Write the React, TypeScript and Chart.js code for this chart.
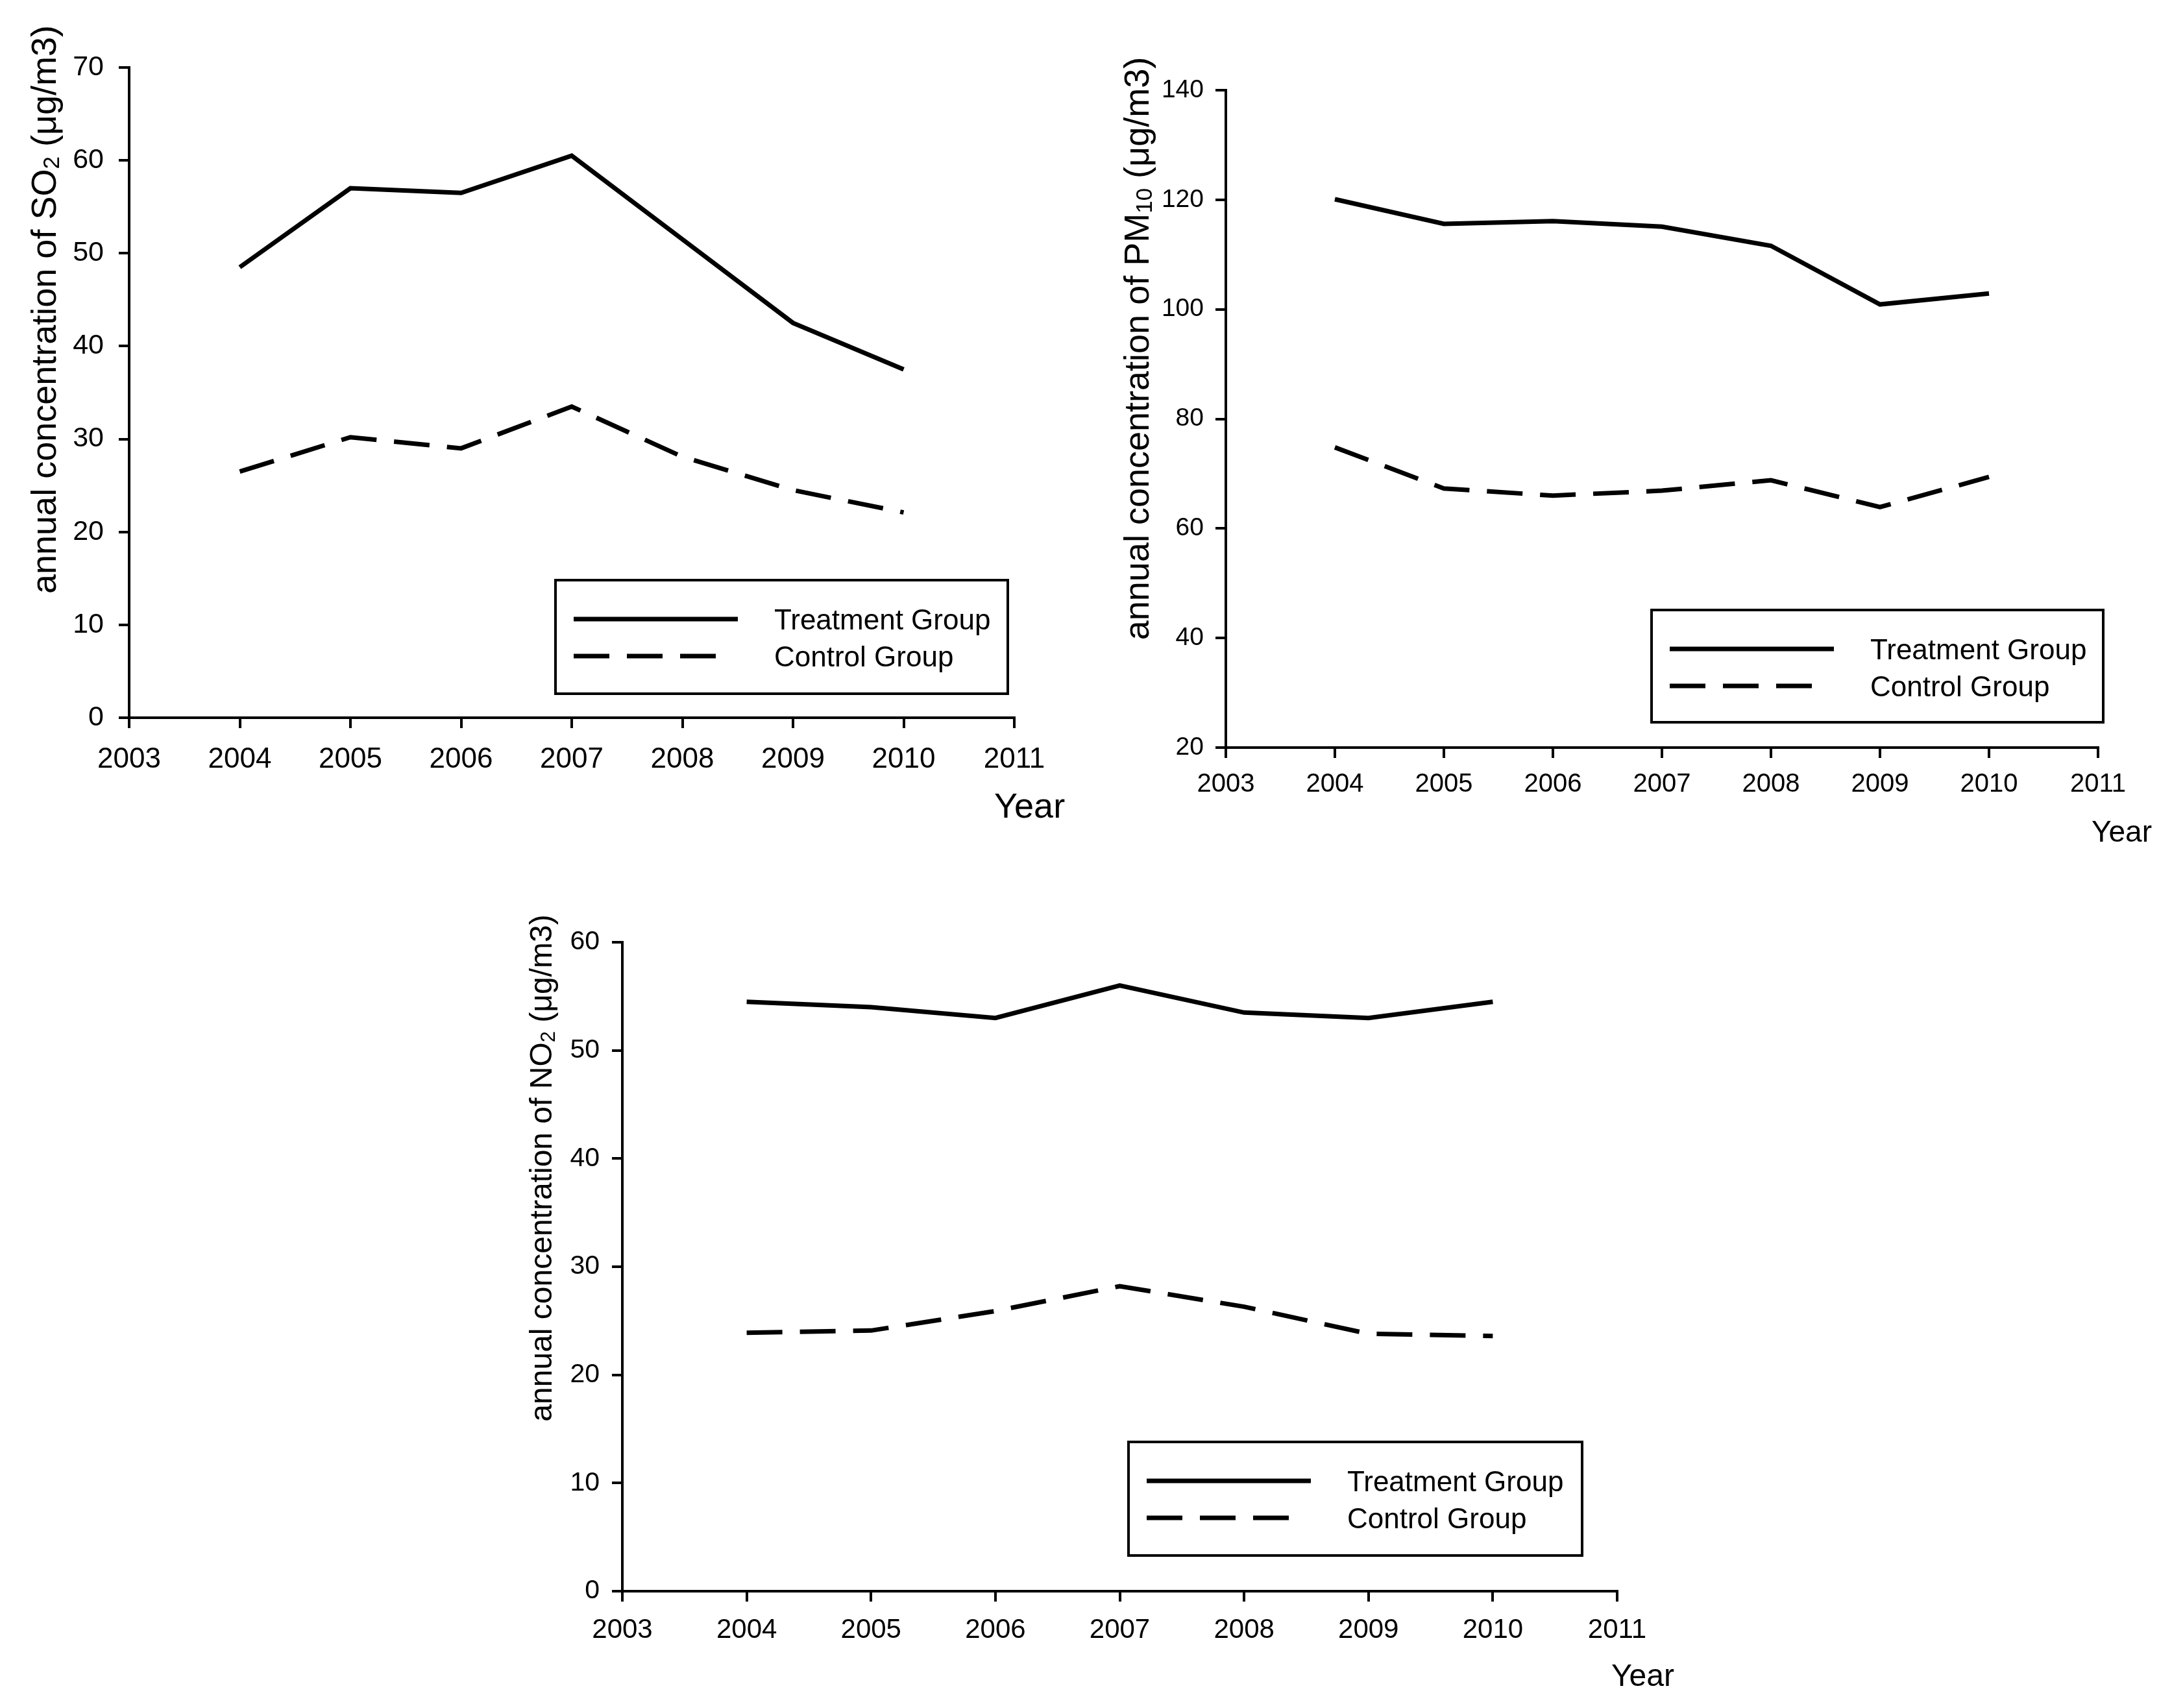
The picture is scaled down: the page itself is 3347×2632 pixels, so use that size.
import React, { useEffect, useRef } from "react";
import { Chart, registerables } from "chart.js";

Chart.register(...registerables);

// ---------- data ----------
const years = [2004, 2005, 2006, 2007, 2008, 2009, 2010];
const xAxisRange = [2003, 2011];
const seriesLabels = ["Treatment Group", "Control Group"];

const so2Treatment = [48.5, 57.0, 56.5, 60.5, 51.5, 42.5, 37.5];
const so2Control = [26.5, 30.2, 29.0, 33.5, 28.1, 24.5, 22.1];
const so2Range = [0, 70, 10];

const pm10Treatment = [120.1, 115.6, 116.1, 115.1, 111.6, 100.9, 102.9];
const pm10Control = [74.8, 67.3, 66.0, 66.9, 68.8, 63.9, 69.4];
const pm10Range = [20, 140, 20];

const no2Treatment = [54.5, 54.0, 53.0, 56.0, 53.5, 53.0, 54.5];
const no2Control = [23.9, 24.1, 25.9, 28.2, 26.3, 23.8, 23.6];
const no2Range = [0, 60, 10];

const xTitle = "Year";
const so2Title = [
  { t: "annual concentration of SO" },
  { t: "2", sub: true },
  { t: " (μg/m3)" },
];
const pm10Title = [
  { t: "annual concentration of PM" },
  { t: "10", sub: true },
  { t: " (μg/m3)" },
];
const no2Title = [
  { t: "annual concentration of NO" },
  { t: "2", sub: true },
  { t: " (μg/m3)" },
];

const FONT = "'Liberation Sans', Arial, Helvetica, sans-serif";
const DASH = [55, 27];

type Part = { t: string; sub?: boolean };
type Spec = {
  left: number;
  top: number;
  w: number;
  h: number;
  treatment: number[];
  control: number[];
  yRange: number[];
  padding: { left: number; top: number; right: number; bottom: number };
  yWidth: number;
  xHeight: number;
  tickFont: number;
  yTickFont: number;
  xPad: number;
  yPad: number;
  title: Part[];
  titleFont: number;
  titleX: number;
  titleY: number;
  yearFont: number;
  yearX: number;
  yearY: number;
  legend: { x: number; y: number; w: number; h: number };
  legendFont: number;
};

function makeTextPlugin(spec: Spec) {
  return {
    id: "figText",
    afterDraw(chart: any) {
      const ctx = chart.ctx as CanvasRenderingContext2D;
      ctx.save();
      ctx.fillStyle = "#000";
      ctx.strokeStyle = "#000";

      // rotated y title with subscripts
      const F = spec.titleFont;
      const SF = Math.round(F * 0.64);
      const widths = spec.title.map((p) => {
        ctx.font = `${p.sub ? SF : F}px ${FONT}`;
        return ctx.measureText(p.t).width;
      });
      const total = widths.reduce((a, b) => a + b, 0);
      ctx.translate(spec.titleX, spec.titleY);
      ctx.rotate(-Math.PI / 2);
      ctx.textBaseline = "alphabetic";
      ctx.textAlign = "left";
      let cx = -total / 2;
      const base = F * 0.26;
      spec.title.forEach((p, i) => {
        ctx.font = `${p.sub ? SF : F}px ${FONT}`;
        ctx.fillText(p.t, cx, p.sub ? base + F * 0.1 : base);
        cx += widths[i];
      });
      ctx.setTransform(1, 0, 0, 1, 0, 0);

      // x title
      ctx.font = `${spec.yearFont}px ${FONT}`;
      ctx.fillText(xTitle, spec.yearX, spec.yearY);

      // legend box
      const L = spec.legend;
      ctx.lineWidth = 4;
      ctx.setLineDash([]);
      ctx.strokeRect(L.x, L.y, L.w, L.h);
      const rows = [60, 117];
      chart.data.datasets.forEach((ds: any, i: number) => {
        const y = L.y + rows[i];
        ctx.lineWidth = ds.borderWidth;
        ctx.setLineDash(ds.borderDash || []);
        ctx.beginPath();
        ctx.moveTo(L.x + 28, y);
        ctx.lineTo(L.x + 28 + (ds.borderDash ? 222 : 253), y);
        ctx.stroke();
        ctx.setLineDash([]);
        ctx.font = `${spec.legendFont}px ${FONT}`;
        ctx.fillText(ds.label, L.x + 337, y + spec.legendFont * 0.36);
      });
      ctx.restore();
    },
  };
}

function buildConfig(spec: Spec): any {
  const axisCommon = {
    grid: {
      drawOnChartArea: false,
      drawTicks: true,
      tickLength: 16,
      color: "#000",
      lineWidth: 4,
    },
    border: { display: true, color: "#000", width: 4 },
  };
  return {
    type: "line",
    data: {
      datasets: [
        {
          label: seriesLabels[0],
          data: years.map((x, i) => ({ x, y: spec.treatment[i] })),
          borderColor: "#000",
          borderWidth: 7,
          pointRadius: 0,
          fill: false,
          tension: 0,
        },
        {
          label: seriesLabels[1],
          data: years.map((x, i) => ({ x, y: spec.control[i] })),
          borderColor: "#000",
          borderWidth: 7,
          borderDash: DASH,
          pointRadius: 0,
          fill: false,
          tension: 0,
        },
      ],
    },
    options: {
      animation: false,
      responsive: false,
      maintainAspectRatio: false,
      devicePixelRatio: 1,
      events: [],
      layout: { padding: spec.padding },
      plugins: { legend: { display: false }, tooltip: { enabled: false } },
      scales: {
        x: {
          type: "linear",
          min: xAxisRange[0],
          max: xAxisRange[1],
          afterFit: (s: any) => {
            s.height = spec.xHeight;
          },
          ticks: {
            stepSize: 1,
            autoSkip: false,
            maxRotation: 0,
            callback: (v: any) => String(v),
            color: "#000",
            padding: spec.xPad,
            font: { family: FONT, size: spec.tickFont },
          },
          ...axisCommon,
        },
        y: {
          type: "linear",
          min: spec.yRange[0],
          max: spec.yRange[1],
          afterFit: (s: any) => {
            s.width = spec.yWidth;
          },
          ticks: {
            stepSize: spec.yRange[2],
            autoSkip: false,
            color: "#000",
            padding: spec.yPad,
            font: { family: FONT, size: spec.yTickFont },
          },
          ...axisCommon,
        },
      },
    },
    plugins: [makeTextPlugin(spec)],
  };
}

function LineChart({ spec }: { spec: Spec }) {
  const ref = useRef<HTMLCanvasElement | null>(null);
  useEffect(() => {
    if (!ref.current) return;
    const chart = new Chart(ref.current, buildConfig(spec));
    return () => chart.destroy();
  }, [spec]);
  return (
    <canvas
      ref={ref}
      width={spec.w}
      height={spec.h}
      style={{
        position: "absolute",
        left: spec.left,
        top: spec.top,
        width: spec.w,
        height: spec.h,
      }}
    />
  );
}

const specs: Spec[] = [
  {
    left: 0,
    top: 0,
    w: 1660,
    h: 1300,
    treatment: so2Treatment,
    control: so2Control,
    yRange: so2Range,
    padding: { left: 0, top: 104, right: 97, bottom: 0 },
    yWidth: 199,
    xHeight: 194,
    tickFont: 44,
    yTickFont: 43,
    xPad: 22,
    yPad: 23,
    title: so2Title,
    titleFont: 54,
    titleX: 72,
    titleY: 477,
    yearFont: 54,
    yearX: 1532,
    yearY: 1260,
    legend: { x: 856, y: 894, w: 697, h: 175 },
    legendFont: 44,
  },
  {
    left: 1680,
    top: 0,
    w: 1667,
    h: 1320,
    treatment: pm10Treatment,
    control: pm10Control,
    yRange: pm10Range,
    padding: { left: 0, top: 139, right: 114, bottom: 0 },
    yWidth: 209,
    xHeight: 168,
    tickFont: 40,
    yTickFont: 39,
    xPad: 17,
    yPad: 18,
    title: pm10Title,
    titleFont: 54,
    titleX: 76,
    titleY: 537,
    yearFont: 46,
    yearX: 1543,
    yearY: 1297,
    legend: { x: 865, y: 940, w: 696, h: 173 },
    legendFont: 44,
  },
  {
    left: 760,
    top: 1340,
    w: 1900,
    h: 1292,
    treatment: no2Treatment,
    control: no2Control,
    yRange: no2Range,
    padding: { left: 0, top: 112, right: 168, bottom: 0 },
    yWidth: 199,
    xHeight: 180,
    tickFont: 42,
    yTickFont: 41,
    xPad: 19,
    yPad: 19,
    title: no2Title,
    titleFont: 48,
    titleX: 78,
    titleY: 460,
    yearFont: 48,
    yearX: 1723,
    yearY: 1258,
    legend: { x: 979, y: 882, w: 699, h: 175 },
    legendFont: 44,
  },
];

export default function App() {
  useEffect(() => {
    document.body.style.margin = "0";
    document.body.style.background = "#fff";
  }, []);
  return (
    <div
      style={{
        position: "absolute",
        left: 0,
        top: 0,
        width: 3347,
        height: 2632,
        background: "#fff",
        overflow: "hidden",
      }}
    >
      {specs.map((s, i) => (
        <LineChart key={i} spec={s} />
      ))}
    </div>
  );
}
